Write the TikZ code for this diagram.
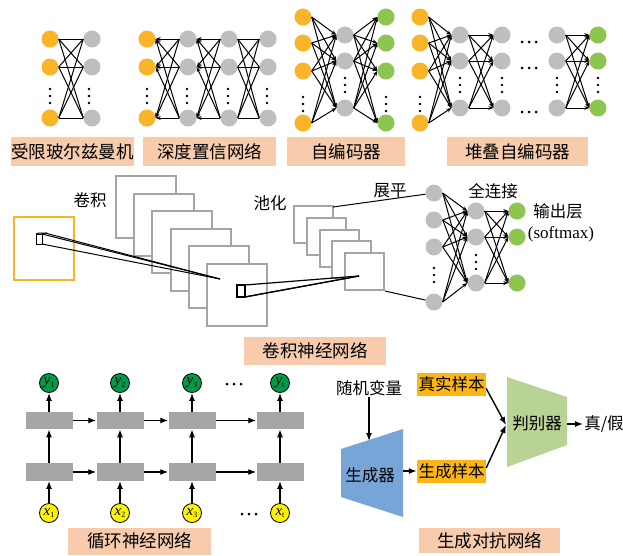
\documentclass[tikz,border=0pt]{standalone}
\usepackage{fontspec}
\newfontfamily\cjk{Noto Sans CJK SC}
\newfontfamily\tms{Liberation Serif}
\usetikzlibrary{arrows.meta}
\definecolor{orn}{RGB}{250,180,40}
\definecolor{gry}{RGB}{190,190,190}
\definecolor{lgr}{RGB}{140,198,80}
\definecolor{peach}{RGB}{248,203,173}
\definecolor{cgry}{RGB}{165,165,165}
\definecolor{rgry}{RGB}{166,166,166}
\definecolor{dgr}{RGB}{0,155,70}
\definecolor{yel}{RGB}{255,242,0}
\definecolor{sorn}{RGB}{252,182,20}
\definecolor{gblue}{RGB}{120,165,215}
\definecolor{dgreen}{RGB}{185,210,150}
\newcommand\vdts[2]{\foreach \d in {-7,0,7} \fill (#1,#2+\d) circle (1.4);}
\newcommand\hdts[2]{\foreach \d in {-7,0,7} \fill (#1+\d,#2) circle (1.5);}
\newcommand\sv[2]{{\tms\itshape #1}\raisebox{-2.5pt}{\tms\fontsize{8}{8}\selectfont #2}}
\tikzset{
 neuron/.style={circle,minimum size=17pt,inner sep=0pt},
 oc/.style={neuron,fill=orn},
 gc/.style={neuron,fill=gry},
 lc/.style={neuron,fill=lgr},
 lnk/.style={line width=1pt},
 arr/.style={line width=1pt,-{Stealth[length=5pt,width=4pt]}},
 lab/.style={fill=peach,inner sep=0pt,font=\cjk\fontsize{17.5}{19}\selectfont},
 txt/.style={inner sep=1pt,font=\cjk\fontsize{16.5}{18}\selectfont},
 conv/.style={draw=cgry,line width=2pt,fill=white},
 rrect/.style={fill=rgry,minimum width=47pt,minimum height=17.5pt,inner sep=0pt},
 rcirc/.style={circle,draw=black,line width=0.8pt,minimum size=19pt,inner sep=0pt,font=\fontsize{15}{15}\selectfont},
 rarr/.style={line width=1.3pt,-{Latex[length=8pt,width=6pt]}},
 garr/.style={line width=1.4pt,-{Latex[length=8pt,width=6pt]}},
 sbox/.style={fill=sorn,minimum width=69pt,minimum height=23pt,inner sep=0pt,font=\cjk\fontsize{16.5}{18}\selectfont}
}
\begin{document}
\begin{tikzpicture}[x=1pt,y=-1pt]
\useasboundingbox (0,0) rectangle (623,555);
\fill[white] (0,0) rectangle (623,555);
% ---------- Panel 1: RBM
\foreach \r/\y in {1/39,2/67,3/118} {
  \node[oc] (pa\r) at (50,\y) {};
  \node[gc] (pb\r) at (92,\y) {};
}
\foreach \i in {1,2,3} \foreach \j in {1,2,3} \draw[lnk] (pa\i.east) -- (pb\j.west);
\vdts{50}{96} \vdts{89}{96}
\node[lab,minimum width=121pt,minimum height=29pt] (l1) at (72.5,151.5) {受限玻尔兹曼机};
% ---------- Panel 2: DBN
\foreach \r/\y in {1/39,2/67,3/118} {
  \node[oc] (q1\r) at (147,\y) {};
  \foreach \c/\x in {2/188,3/229,4/268} \node[gc] (q\c\r) at (\x,\y) {};
}
\foreach \c/\d in {1/2,2/3} \foreach \i in {1,2,3} \foreach \j in {1,2,3}
  \draw[arr] (q\d\j.west) -- (q\c\i.east);
\foreach \i in {1,2,3} \foreach \j in {1,2,3} \draw[lnk] (q3\i.east) -- (q4\j.west);
\vdts{147}{96} \vdts{187}{96} \vdts{228}{96} \vdts{267}{96}
\node[lab,minimum width=133pt,minimum height=29pt] (l2) at (209.5,151.5) {深度置信网络};
% ---------- Panel 3: Autoencoder
\foreach \r/\y in {1/17,2/43,3/71,4/123} {
  \node[oc] (ao\r) at (303,\y) {};
  \node[lc] (ag\r) at (386,\y) {};
}
\foreach \r/\y in {1/35,2/61,3/108} \node[gc] (ah\r) at (345,\y) {};
\foreach \i in {1,2,3,4} \foreach \j in {1,2,3} {
  \draw[arr] (ao\i.east) -- (ah\j.west);
  \draw[arr] (ah\j.east) -- (ag\i.west);
}
\vdts{303}{104} \vdts{386}{104} \vdts{345}{85}
\node[lab,minimum width=118pt,minimum height=29pt] (l3) at (346,151.5) {自编码器};
% ---------- Panel 4: Stacked autoencoder
\foreach \r/\y in {1/17,2/43,3/71,4/123} \node[oc] (so\r) at (420,\y) {};
\foreach \r/\y in {1/35,2/61,3/108} {
  \node[gc] (sa\r) at (460,\y) {};
  \node[gc] (sb\r) at (502,\y) {};
  \node[gc] (sc\r) at (557,\y) {};
  \node[lc] (sd\r) at (598,\y) {};
}
\foreach \i in {1,2,3,4} \foreach \j in {1,2,3} \draw[arr] (so\i.east) -- (sa\j.west);
\foreach \i in {1,2,3} \foreach \j in {1,2,3} {
  \draw[arr] (sa\i.east) -- (sb\j.west);
  \draw[arr] (sc\i.east) -- (sd\j.west);
}
\vdts{420}{104} \vdts{460}{85} \vdts{502}{85} \vdts{557}{85} \vdts{598}{85}
\hdts{529}{42} \hdts{529}{68} \hdts{529}{112}
\node[lab,minimum width=141pt,minimum height=29pt] (l4) at (517.5,151.5) {堆叠自编码器};
% ---------- CNN
\draw[draw=orn,line width=2pt] (14,217) rectangle (74,280);
\foreach \k in {0,...,5} \draw[conv] (116+18.2*\k,176+17.6*\k) rectangle ++(60,62);
\foreach \k in {0,...,4} \draw[conv] (294+12.75*\k,206+11.75*\k) rectangle ++(39,37);
% patch 1
\coordinate (c1) at (220,279);
\draw[line width=1pt] (36,234) rectangle (42,244);
\draw[line width=1pt] (36,234) -- (39,233) -- (45,233) -- (42,234);
\draw[line width=1pt] (45,233) -- (c1);
\draw[line width=1pt] (42,234) -- (c1);
\draw[line width=1pt] (42,244) -- (c1);
% patch 2
\coordinate (c2) at (359,276);
\draw[line width=1.2pt] (237,285) rectangle (245,297);
\draw[line width=1.2pt] (245,285) -- (c2);
\draw[line width=1.2pt] (245,297) -- (c2);
\draw[line width=1.2pt] (250,296) -- (c2);
\draw[line width=1.2pt] (245,297) -- (250,296);
\node[txt] (tconv) at (90,200) {卷积};
\node[txt] (tpool) at (270,203) {池化};
\node[txt] (tflat) at (390,191) {展平};
\node[txt] (tfc) at (493,191) {全连接};
\node[txt] (tout) at (558,211) {输出层};
\node[inner sep=1pt,font=\tms\fontsize{17}{19}\selectfont] (tsm) at (561,234) {(softmax)};
\foreach \r/\y in {1/193,2/220,3/247,4/302} \node[gc] (f\r) at (434,\y) {};
\foreach \r/\y in {1/211,2/237,3/283} {
  \node[gc] (h\r) at (476,\y) {};
  \node[lc] (o\r) at (517,\y) {};
}
\vdts{434}{275} \vdts{476}{262}
\foreach \i in {1,2,3,4} \foreach \j in {1,2,3} \draw[arr] (f\i.east) -- (h\j.west);
\foreach \i in {1,2,3} \foreach \j in {1,2,3} \draw[arr] (h\i.east) -- (o\j.west);
\coordinate (ptop) at (333,207);
\coordinate (pbot) at (385,291);
\draw[line width=1pt] (ptop) -- (f1);
\draw[line width=1pt] (pbot) -- (f4);
\node[lab,minimum width=142pt,minimum height=28pt] (l5) at (315,351) {卷积神经网络};
% ---------- RNN
\foreach \i/\x/\s in {1/49/1,2/120/2,3/192/3,4/280/t} {
  \node[rcirc,fill=dgr] (y\i) at (\x,383) {\sv{y}{\s}};
  \node[rrect] (ht\i) at (\x,420.5) {};
  \node[rrect] (hb\i) at (\x,472) {};
  \node[rcirc,fill=yel] (x\i) at (\x,513) {\sv{x}{\s}};
  \draw[rarr] (x\i) -- (hb\i);
  \draw[rarr] (hb\i) -- (ht\i);
  \draw[rarr] (ht\i) -- (y\i);
}
\foreach \a/\b in {1/2,2/3,3/4} {
  \draw[rarr] (ht\a) -- (ht\b);
  \draw[rarr] (hb\a) -- (hb\b);
}
\hdts{234}{384} \hdts{249}{514}
\node[lab,minimum width=143pt,minimum height=27pt] (l6) at (139.5,541) {循环神经网络};
% ---------- GAN
\node[txt] (rv) at (369,388) {随机变量};
\fill[gblue] (341,449) -- (403,429) -- (403,517) -- (341,497) -- cycle;
\node[txt] (gen) at (370,475) {生成器};
\coordinate (gtop) at (369,441);
\draw[garr] (rv) -- (gtop);
\node[sbox] (rs) at (451.5,384.5) {真实样本};
\node[sbox] (gs) at (451.5,471) {生成样本};
\coordinate (gout) at (403,471);
\draw[garr] (gout) -- (gs.west);
\fill[dgreen] (507,377) -- (567,397) -- (567,445) -- (507,467) -- cycle;
\node[txt] (dis) at (537,423) {判别器};
\coordinate (din) at (506,425);
\draw[garr] ([yshift=-4pt]rs.east) -- (din);
\draw[garr] ([yshift=3pt]gs.east) -- (din);
\node[txt] (tf) at (604,424) {真/假};
\coordinate (dout) at (567,424);
\draw[garr] (dout) -- (tf.west);
\node[lab,minimum width=141pt,minimum height=25pt] (l7) at (489.5,540.5) {生成对抗网络};
\end{tikzpicture}
\end{document}
